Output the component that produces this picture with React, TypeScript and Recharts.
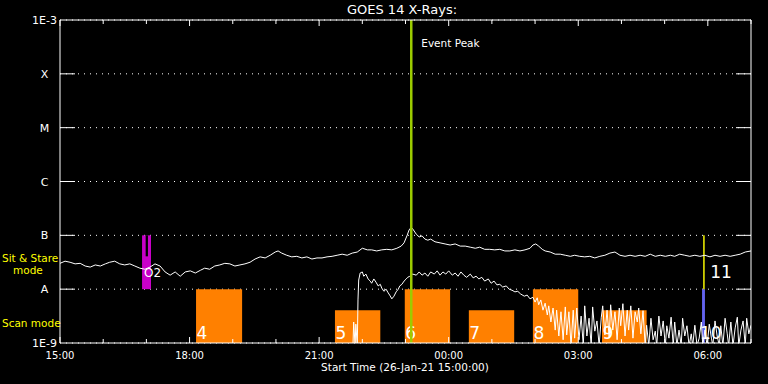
import React from 'react';
import {
  ComposedChart,
  Line,
  XAxis,
  YAxis,
  CartesianGrid,
  ReferenceArea,
  ReferenceLine,
} from 'recharts';

const FONT = '"DejaVu Sans", sans-serif';

// time = minutes after 15:00 UT on 26-Jan-21, value = log10 of flux (W/m^2)
const longChannel: [number, number][] = [
  [0, -7.52], [7, -7.48], [14, -7.5], [21, -7.53], [28, -7.52], [35, -7.57], [42, -7.59], [49, -7.55],
  [56, -7.57], [63, -7.53], [69, -7.5], [76, -7.48], [83, -7.53], [90, -7.55], [97, -7.53], [104, -7.57],
  [111, -7.61], [118, -7.63], [125, -7.59], [132, -7.53], [139, -7.57], [146, -7.68], [153, -7.74],
  [160, -7.68], [167, -7.76], [174, -7.68], [181, -7.66], [188, -7.7], [195, -7.65], [201, -7.61],
  [208, -7.63], [215, -7.57], [222, -7.55], [229, -7.52], [236, -7.53], [243, -7.57], [250, -7.55],
  [257, -7.53], [264, -7.5], [271, -7.44], [278, -7.4], [285, -7.42], [292, -7.37], [299, -7.31],
  [303, -7.29], [308, -7.33], [315, -7.37], [322, -7.4], [329, -7.39], [336, -7.42], [343, -7.4],
  [350, -7.44], [357, -7.42], [364, -7.42], [371, -7.4], [378, -7.39], [385, -7.37], [392, -7.35],
  [399, -7.37], [406, -7.33], [413, -7.31], [420, -7.24], [427, -7.27], [433, -7.27], [440, -7.29],
  [447, -7.27], [454, -7.26], [461, -7.27], [468, -7.24], [474, -7.2], [478, -7.14], [482, -7.01],
  [485, -6.9], [488, -6.85], [490, -6.88], [495, -6.98], [499, -7.03], [503, -7.01], [507, -7.07],
  [511, -7.09], [515, -7.07], [521, -7.12], [528, -7.14], [535, -7.16], [542, -7.18], [549, -7.16],
  [556, -7.2], [563, -7.2], [570, -7.22], [577, -7.24], [583, -7.22], [590, -7.26], [597, -7.26],
  [604, -7.27], [611, -7.26], [618, -7.29], [625, -7.29], [632, -7.27], [639, -7.29], [646, -7.27],
  [653, -7.24], [657, -7.18], [661, -7.16], [665, -7.2], [670, -7.26], [674, -7.29], [681, -7.31],
  [688, -7.35], [695, -7.35], [702, -7.37], [709, -7.39], [715, -7.37], [722, -7.39], [729, -7.4],
  [736, -7.39], [743, -7.42], [750, -7.39], [757, -7.37], [764, -7.33], [771, -7.31], [778, -7.37],
  [785, -7.39], [792, -7.37], [799, -7.39], [806, -7.37], [813, -7.39], [820, -7.35], [827, -7.39],
  [834, -7.37], [841, -7.39], [848, -7.37], [854, -7.39], [861, -7.35], [868, -7.37], [875, -7.39],
  [882, -7.37], [889, -7.39], [896, -7.37], [903, -7.4], [910, -7.37], [917, -7.39], [924, -7.37],
  [931, -7.39], [938, -7.37], [945, -7.35], [952, -7.31], [960, -7.29],
];

const shortChannel: [number, number][] = [
  [407, -9.05], [408, -8.61], [410, -9.05], [411, -8.65], [413, -9.05], [414, -8.2], [415, -7.83],
  [417, -7.7], [420, -7.68], [422, -7.76], [425, -7.72], [428, -7.81], [431, -7.85], [433, -7.89],
  [436, -7.81], [439, -7.87], [442, -7.94], [445, -7.91], [447, -7.98], [450, -8.04], [453, -8.0],
  [456, -8.07], [458, -8.11], [461, -8.18], [464, -8.13], [467, -8.05], [470, -8.0], [472, -7.94],
  [475, -7.91], [478, -7.85], [481, -7.81], [483, -7.78], [486, -7.76], [490, -7.72], [495, -7.74],
  [499, -7.68], [503, -7.74], [507, -7.7], [511, -7.76], [515, -7.68], [520, -7.72], [524, -7.66],
  [528, -7.74], [532, -7.68], [536, -7.72], [540, -7.66], [545, -7.74], [549, -7.7], [553, -7.76],
  [557, -7.68], [561, -7.74], [565, -7.78], [570, -7.72], [574, -7.79], [578, -7.76], [582, -7.81],
  [586, -7.78], [590, -7.85], [595, -7.81], [599, -7.89], [603, -7.85], [607, -7.92], [611, -7.91],
  [615, -7.96], [620, -7.94], [624, -8.0], [628, -8.02], [632, -8.05], [636, -8.04], [640, -8.09],
  [645, -8.13], [649, -8.11], [653, -8.18], [657, -8.15], [660, -8.24], [663, -8.16], [665, -8.29],
  [668, -8.2], [671, -8.39], [674, -8.26], [677, -8.48], [679, -8.31], [682, -8.61], [685, -8.35],
  [688, -8.76], [690, -8.39], [693, -8.87], [696, -8.42], [699, -8.94], [702, -8.33], [704, -8.85],
  [707, -8.42], [710, -9.05], [713, -8.39], [715, -8.91], [718, -8.35], [721, -8.94], [724, -8.5],
  [727, -9.05], [729, -8.31], [732, -8.87], [735, -8.54], [738, -9.05], [740, -8.33], [743, -8.78],
  [746, -8.59], [749, -9.05], [752, -8.52], [754, -8.31], [757, -8.85], [760, -8.39], [763, -8.91],
  [765, -8.29], [768, -8.76], [771, -8.42], [774, -8.94], [777, -8.35], [779, -8.68], [782, -8.27],
  [785, -8.87], [788, -8.39], [790, -8.76], [793, -8.31], [796, -8.91], [799, -8.42], [802, -8.61],
  [804, -8.35], [807, -8.83], [810, -8.4], [813, -9.05], [815, -8.67], [818, -9.05], [821, -8.54],
  [824, -8.94], [827, -8.78], [829, -9.05], [832, -8.5], [835, -8.87], [838, -8.59], [841, -9.05],
  [843, -8.68], [846, -8.91], [849, -8.52], [852, -9.05], [854, -8.61], [857, -9.05], [860, -8.76],
  [863, -9.05], [865, -8.54], [868, -8.87], [871, -8.68], [874, -9.05], [877, -8.83], [879, -9.05],
  [882, -8.67], [885, -9.05], [888, -8.91], [891, -8.61], [893, -9.05], [896, -8.76], [899, -9.05],
  [902, -8.65], [905, -8.91], [907, -9.05], [910, -8.59], [913, -8.87], [916, -9.05], [918, -8.68],
  [921, -9.05], [924, -8.54], [927, -8.83], [929, -9.05], [932, -8.61], [935, -9.05], [938, -8.72],
  [941, -8.52], [943, -9.05], [946, -8.76], [949, -8.59], [952, -9.05], [954, -8.54], [957, -8.83],
  [960, -8.67],
];

const hourTicks = [0, 60, 120, 180, 240, 300, 360, 420, 480, 540, 600, 660, 720, 780, 840, 900, 960];
const timeLabels: Record<number, string> = {
  0: '15:00', 180: '18:00', 360: '21:00', 540: '00:00', 720: '03:00', 900: '06:00',
};
const levelTicks = [-9, -8, -7, -6, -5, -4, -3];
const levelLabels: Record<number, string> = {
  '-9': '1E-9', '-8': 'A', '-7': 'B', '-6': 'C', '-5': 'M', '-4': 'X', '-3': '1E-3',
};

// scan mode blocks (minutes), top as log10 level
const scanBlocks = [
  { label: '4', from: 189, to: 253, top: -8 },
  { label: '5', from: 382, to: 445, top: -8.39 },
  { label: '6', from: 479, to: 542, top: -8 },
  { label: '7', from: 568, to: 631, top: -8.39 },
  { label: '8', from: 657, to: 720, top: -8 },
  { label: '9', from: 753, to: 815, top: -8.39 },
];
const sitStare = { from: 114, to: 126.4, notchFrom: 119, notchTo: 122.2, notchBottom: -7.39 };
const pointing10 = { from: 892, to: 896 };
const pointing11 = { from: 893.6, to: 895.6 };
const eventPeak = 488;

const longData = longChannel.map(([t, v]) => ({ t, v }));
const shortData = shortChannel.map(([t, v]) => ({ t, v }));

const PLOT_LEFT = 60;
const PLOT_RIGHT = 751;
const PLOT_TOP = 20;
const PLOT_BOTTOM = 343;

const BottomTick = (props: any) => {
  const { x, payload } = props;
  const major = payload.value % 180 === 0;
  return (
    <g>
      <line x1={x} x2={x} y1={PLOT_BOTTOM} y2={PLOT_BOTTOM - (major ? 6 : 4)} stroke="#fff" />
      {major && (
        <text x={x} y={359} textAnchor="middle" fill="#fff" fontSize={10} fontFamily={FONT}>
          {timeLabels[payload.value]}
        </text>
      )}
    </g>
  );
};

const TopTick = (props: any) => {
  const { x, payload } = props;
  const major = payload.value % 180 === 0;
  return <line x1={x} x2={x} y1={PLOT_TOP} y2={PLOT_TOP + (major ? 6 : 4)} stroke="#fff" />;
};

const LeftTick = (props: any) => {
  const { y, payload } = props;
  const inner = payload.value > -9 && payload.value < -3;
  return (
    <g>
      {inner && <line x1={PLOT_LEFT} x2={PLOT_LEFT + 15} y1={y} y2={y} stroke="#fff" />}
      {inner && <line x1={PLOT_RIGHT - 15} x2={PLOT_RIGHT} y1={y} y2={y} stroke="#fff" />}
      <text x={44.5} y={y + 4} textAnchor="middle" fill="#fff" fontSize={11} fontFamily={FONT}>
        {levelLabels[payload.value]}
      </text>
    </g>
  );
};

const blockLabel = (text: string, dx: number) => (p: any) => {
  const vb = p.viewBox;
  return (
    <text x={vb.x + dx} y={vb.y + vb.height - 4} fill="#fff" fontSize={17} fontFamily={FONT}>
      {text}
    </text>
  );
};

export default function App() {
  return (
    <div style={{ position: 'absolute', left: 0, top: 0, width: 768, height: 384, background: '#000' }}>
      <ComposedChart width={768} height={384} margin={{ top: 0, right: 0, bottom: 0, left: 0 }}>
        <XAxis
          xAxisId="b"
          type="number"
          dataKey="t"
          domain={[0, 960]}
          ticks={hourTicks}
          interval={0}
          height={41}
          axisLine={{ stroke: '#fff' }}
          tickLine={false}
          tick={BottomTick}
          allowDataOverflow
        />
        <XAxis
          xAxisId="t"
          orientation="top"
          type="number"
          dataKey="t"
          domain={[0, 960]}
          ticks={hourTicks}
          interval={0}
          height={20}
          axisLine={{ stroke: '#fff' }}
          tickLine={false}
          tick={TopTick}
          allowDataOverflow
        />
        <YAxis
          yAxisId="l"
          type="number"
          domain={[-9, -3]}
          ticks={levelTicks}
          interval={0}
          width={60}
          axisLine={{ stroke: '#fff' }}
          tickLine={false}
          tick={LeftTick}
          allowDataOverflow
        />
        <YAxis
          yAxisId="r"
          orientation="right"
          type="number"
          domain={[-9, -3]}
          ticks={levelTicks}
          width={17}
          axisLine={{ stroke: '#fff' }}
          tickLine={false}
          tick={false}
          allowDataOverflow
        />
        <CartesianGrid xAxisId="b" yAxisId="l" vertical={false} stroke="#fff" strokeDasharray="1 5" />

        {scanBlocks.map((b) => (
          <ReferenceArea
            key={b.label}
            xAxisId="b"
            yAxisId="l"
            x1={b.from}
            x2={b.to}
            y1={-9}
            y2={b.top}
            fill="#ff8000"
            fillOpacity={1}
            stroke="none"
            label={blockLabel(b.label, 0.5)}
          />
        ))}
        <ReferenceArea
          xAxisId="b"
          yAxisId="l"
          x1={sitStare.from}
          x2={sitStare.to}
          y1={-8}
          y2={-7}
          fill="#c800c8"
          fillOpacity={1}
          stroke="none"
        />
        <ReferenceArea
          xAxisId="b"
          yAxisId="l"
          x1={sitStare.notchFrom}
          x2={sitStare.notchTo}
          y1={sitStare.notchBottom}
          y2={-7}
          fill="#000"
          fillOpacity={1}
          stroke="none"
        />
        <ReferenceArea
          xAxisId="b"
          yAxisId="l"
          x1={pointing10.from}
          x2={pointing10.to}
          y1={-9}
          y2={-8}
          fill="#6464f0"
          fillOpacity={1}
          stroke="none"
          label={blockLabel('10', -2)}
        />
        <ReferenceArea
          xAxisId="b"
          yAxisId="l"
          x1={pointing11.from}
          x2={pointing11.to}
          y1={-8}
          y2={-7}
          fill="#ffff00"
          fillOpacity={1}
          stroke="none"
          label={(p: any) => (
            <text x={p.viewBox.x + 7} y={p.viewBox.y + p.viewBox.height - 11} fill="#fff" fontSize={17} fontFamily={FONT}>
              11
            </text>
          )}
        />

        <Line
          xAxisId="b"
          yAxisId="l"
          data={longData}
          dataKey="v"
          type="linear"
          stroke="#fff"
          strokeWidth={1}
          dot={false}
          isAnimationActive={false}
        />
        <Line
          xAxisId="b"
          yAxisId="l"
          data={shortData}
          dataKey="v"
          type="linear"
          stroke="#fff"
          strokeWidth={1}
          dot={false}
          isAnimationActive={false}
        />

        <ReferenceLine
          xAxisId="b"
          yAxisId="l"
          x={eventPeak}
          stroke="#9ccc00"
          strokeWidth={2.5}
          label={(p: any) => (
            <text x={p.viewBox.x + 10} y={p.viewBox.y + 27} fill="#fff" fontSize={10.5} fontFamily={FONT}>
              Event Peak
            </text>
          )}
        />
        <ReferenceArea
          xAxisId="b"
          yAxisId="l"
          x1={sitStare.from}
          x2={sitStare.to}
          y1={-8}
          y2={-7}
          fill="none"
          stroke="none"
          label={(p: any) => (
            <text x={p.viewBox.x + 2} y={p.viewBox.y + 42} fill="#fff" fontSize={12} fontFamily={FONT}>
              O2
            </text>
          )}
        />
      </ComposedChart>
      <svg
        width={768}
        height={384}
        style={{ position: 'absolute', left: 0, top: 0, pointerEvents: 'none' }}
        fontFamily={FONT}
      >
        <text x={402} y={14} textAnchor="middle" fill="#fff" fontSize={13}>
          GOES 14 X-Rays:
        </text>
        <text x={405} y={371} textAnchor="middle" fill="#fff" fontSize={10.5}>
          Start Time (26-Jan-21 15:00:00)
        </text>
        <text x={2} y={262} fill="#ffff00" fontSize={10.5}>
          Sit &amp; Stare
        </text>
        <text x={13} y={274} fill="#ffff00" fontSize={10.5}>
          mode
        </text>
        <text x={2} y={327} fill="#ffff00" fontSize={10.5}>
          Scan mode
        </text>
      </svg>
    </div>
  );
}
